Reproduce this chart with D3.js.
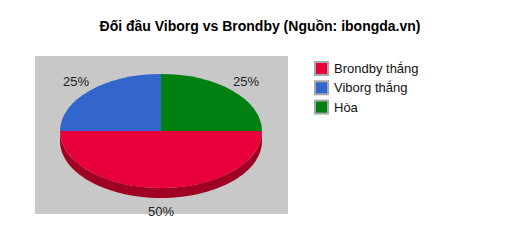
<!DOCTYPE html>
<html>
<head>
<meta charset="utf-8">
<script src="https://cdn.jsdelivr.net/npm/d3@7"></script>
<style>
  body { margin: 0; background: #fff; }
  text { font-family: "Liberation Sans", Arial, sans-serif; }
</style>
</head>
<body>
<div id="chart"></div>
<script>
var title = "Đối đầu Viborg vs Brondby (Nguồn: ibongda.vn)";
var categories = ["Brondby thắng", "Viborg thắng", "Hòa"];
var values = [50, 25, 25];
var colors = ["#e8003a", "#3366cc", "#008010"];
var sideColors = ["#a00024", "#234a99", "#005a0b"];

var w = 520, h = 250;
var cx = 161, cy = 131, rx = 101, ry = 57, depth = 10;

var svg = d3.select("#chart").append("svg")
    .attr("width", w)
    .attr("height", h);

// plot background
svg.append("rect")
    .attr("x", 35).attr("y", 56)
    .attr("width", 253).attr("height", 158)
    .attr("fill", "#c8c8c8");

svg.append("text")
    .attr("x", 260).attr("y", 31)
    .attr("text-anchor", "middle")
    .attr("font-size", 14)
    .attr("font-weight", "bold")
    .attr("fill", "#000")
    .text(title);

var data = categories.map((c, i) => ({name: c, value: values[i], i: i}));
var pie = d3.pie().sort(null).value(d => d.value)
    .startAngle(Math.PI / 2).endAngle(Math.PI * 5 / 2);
var arcs = pie(data);

function pt(a, y0) {
    return [cx + rx * Math.sin(a), y0 - ry * Math.cos(a)];
}

// side walls (only the front half is seen)
var sideG = svg.append("g");
arcs.forEach(function(d) {
    var a0 = Math.max(d.startAngle, Math.PI / 2);
    var a1 = Math.min(d.endAngle, Math.PI * 3 / 2);
    if (a1 <= a0) return;
    var n = 60, top = [], bot = [];
    for (var k = 0; k <= n; k++) {
        var a = a0 + (a1 - a0) * k / n;
        top.push(pt(a, cy));
        bot.push(pt(a, cy + depth));
    }
    var p = top.concat(bot.reverse());
    sideG.append("path")
        .attr("d", "M" + p.map(q => q.join(",")).join("L") + "Z")
        .attr("fill", sideColors[d.data.i]);
});

// top face
var arc = d3.arc().innerRadius(0).outerRadius(rx);
svg.append("g")
    .attr("transform", "translate(" + cx + "," + cy + ") scale(1," + (ry / rx) + ")")
    .selectAll("path")
    .data(arcs)
    .enter()
    .append("path")
    .attr("d", arc)
    .attr("fill", d => colors[d.data.i]);

// percent labels
svg.append("g").selectAll("text")
    .data(arcs)
    .enter()
    .append("text")
    .attr("x", d => cx + rx * 1.19 * Math.sin((d.startAngle + d.endAngle) / 2))
    .attr("y", d => {
        var a = (d.startAngle + d.endAngle) / 2;
        var y = cy - ry * 1.23 * Math.cos(a);
        if (Math.cos(a) < 0) y += depth;
        return y + 5;
    })
    .attr("text-anchor", "middle")
    .attr("font-size", 13)
    .attr("fill", "#222")
    .text(d => Math.round(d.value / d3.sum(values) * 100) + "%");

// legend
var legend = svg.append("g").attr("transform", "translate(314,61)");
var row = legend.selectAll("g")
    .data(categories)
    .enter()
    .append("g")
    .attr("transform", (d, i) => "translate(0," + (i * 19.3) + ")");
row.append("rect")
    .attr("x", 1).attr("y", 1)
    .attr("width", 13).attr("height", 13)
    .attr("fill", (d, i) => colors[i])
    .attr("stroke", "#a8a8a8")
    .attr("stroke-width", 2);
row.append("text")
    .attr("x", 20).attr("y", 12)
    .attr("font-size", 13)
    .attr("fill", "#111")
    .text(d => d);
</script>
</body>
</html>
